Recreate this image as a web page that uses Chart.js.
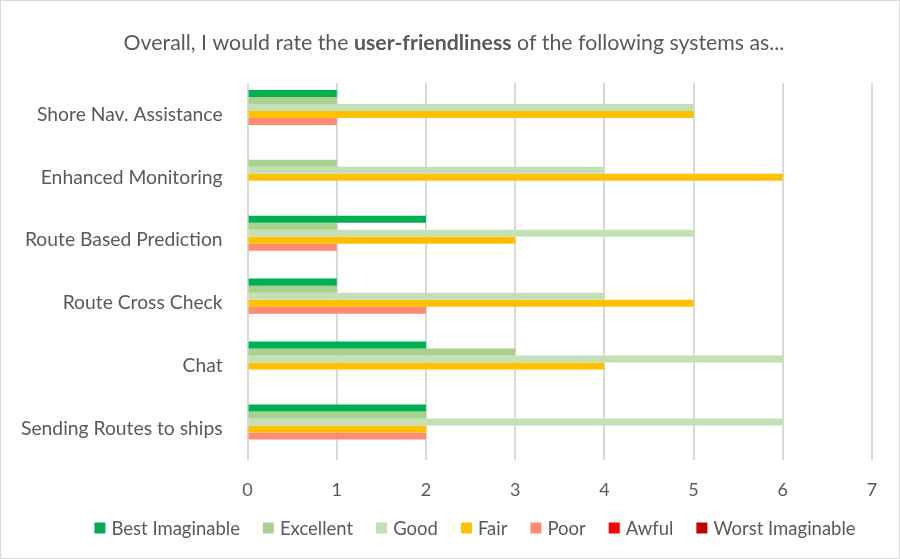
<!DOCTYPE html>
<html><head><meta charset="utf-8">
<script src="https://cdn.jsdelivr.net/npm/chart.js@4/dist/chart.umd.min.js"></script>
<style>
html,body{margin:0;padding:0;background:#fff;}
#wrap{position:absolute;left:0;top:0;width:898px;height:557px;border:1px solid #d9d9d9;}
canvas{display:block;}
</style></head>
<body>
<div id="wrap"><canvas id="c" width="898" height="557"></canvas></div>
<script>
const categories = ["Shore Nav. Assistance","Enhanced Monitoring","Route Based Prediction","Route Cross Check","Chat","Sending Routes to ships"];
const seriesNames = ["Best Imaginable","Excellent","Good","Fair","Poor","Awful","Worst Imaginable"];
const seriesColors = ["#00b050","#a9d18e","#c5e0b4","#ffc000","#ff8b73","#ff0000","#c00000"];
const bestImaginable = [1,0,2,1,2,2];
const excellent      = [1,1,1,1,3,2];
const good           = [5,4,5,4,6,6];
const fair           = [5,6,3,5,4,2];
const poor           = [1,0,1,2,0,2];
const awful          = [0,0,0,0,0,0];
const worstImaginable= [0,0,0,0,0,0];
const xTicks = [0,1,2,3,4,5,6,7];

const seriesData = [bestImaginable,excellent,good,fair,poor,awful,worstImaginable];
const FONT = "Lato, 'Open Sans', sans-serif";

const titlePlugin = {
  id:'richTitle',
  afterDraw(chart){
    const ctx = chart.ctx;
    const parts = [["Overall, I would rate the ","normal"],["user-friendliness","bold"],[" of the following systems as...","normal"]];
    ctx.save();
    ctx.textBaseline = 'middle';
    ctx.fillStyle = '#595959';
    let total = 0;
    parts.forEach(p=>{ctx.font = p[1]+" 21.3px "+FONT; total += ctx.measureText(p[0]).width;});
    let x = 453 - total/2;
    parts.forEach(p=>{ctx.font = p[1]+" 21.3px "+FONT; ctx.fillText(p[0],x,42); x += ctx.measureText(p[0]).width;});
    ctx.restore();
  }
};

const legendPlugin = {
  id:'bottomLegend',
  afterDraw(chart){
    const ctx = chart.ctx;
    const ds = chart.data.datasets;
    const box = 11, gap = 6, itemGap = 23, y = 527;
    ctx.save();
    ctx.font = "18.5px "+FONT;
    ctx.textBaseline = 'middle';
    const widths = ds.map(d=>box+gap+ctx.measureText(d.label).width);
    const total = widths.reduce((a,b)=>a+b,0) + itemGap*(ds.length-1);
    let x = 474 - total/2;
    ds.forEach((d,i)=>{
      ctx.fillStyle = d.backgroundColor;
      ctx.fillRect(x, y-box/2, box, box);
      ctx.fillStyle = '#595959';
      ctx.fillText(d.label, x+box+gap, y+1);
      x += widths[i] + itemGap;
    });
    ctx.restore();
  }
};

new Chart(document.getElementById('c'),{
  type:'bar',
  data:{
    labels:categories,
    datasets:seriesNames.map((n,i)=>({label:n,data:seriesData[i],backgroundColor:seriesColors[i],borderWidth:0,categoryPercentage:0.78,barPercentage:1.0}))
  },
  options:{
    indexAxis:'y',
    responsive:false,
    animation:false,
    layout:{padding:{top:82,right:27,left:-5,bottom:38}},
    scales:{
      x:{min:0,max:7,
        afterBuildTicks(ax){ax.ticks = xTicks.map(v=>({value:v}));},
        grid:{color:'#d9d9d9',lineWidth:2,drawTicks:false},
        border:{display:false},
        ticks:{color:'#595959',font:{family:FONT,size:18},padding:19}
      },
      y:{
        grid:{display:false,drawTicks:false},
        border:{display:false},
        ticks:{color:'#595959',font:{family:FONT,size:19.3},padding:25}
      }
    },
    plugins:{
      legend:{display:false},
      tooltip:{enabled:false},
      title:{display:false}
    }
  },
  plugins:[titlePlugin,legendPlugin]
});
</script>
</body></html>
